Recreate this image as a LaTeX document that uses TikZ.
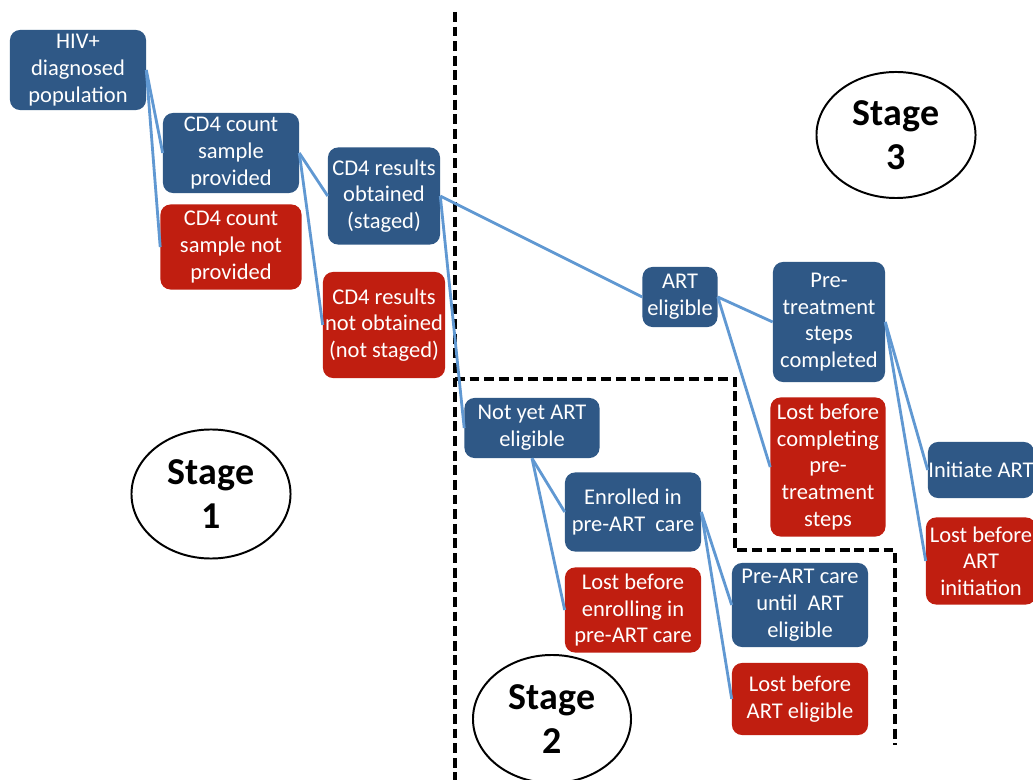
\documentclass[tikz,border=0pt]{standalone}
\usepackage{fontspec}
\setmainfont{Carlito}
\usepackage{tikz}
\usetikzlibrary{shapes.geometric}

\definecolor{boxblue}{RGB}{47,88,134}
\definecolor{boxred}{RGB}{192,30,16}
\definecolor{linkblue}{RGB}{96,152,210}

\begin{document}
\begin{tikzpicture}[x=0.025cm, y=-0.025cm,
    bluebox/.style={rectangle, rounded corners=0.25cm, fill=boxblue, text=white, align=center, inner sep=0pt,
        font=\fontsize{16pt}{19pt}\selectfont},
    redbox/.style={bluebox, fill=boxred},
    stagelabel/.style={ellipse, draw, line width=1.4pt, inner sep=0pt, align=center,
        font=\fontsize{27pt}{31pt}\selectfont\bfseries},
    conn/.style={linkblue, line width=2pt},
    divider/.style={line width=2.6pt, dash pattern=on 7pt off 3.4pt}]
                  \useasboundingbox (0,0) rectangle (1033,780);
                  \fill [white] (0,0) rectangle (1033,780);

                  % Stage borders
                  \draw [divider] (455,12) -- (455,780);
                  \draw [divider] (455,379) -- (735,379) -- (735,550) -- (895,550) -- (895,745);

                  % Nodes for stage 1
                  \node [bluebox, minimum width=3.4cm, minimum height=2cm] (hiv) at (78,70) {HIV+\\diagnosed\\population};
                  \node [bluebox, minimum width=3.4cm, minimum height=2cm] (sample) at (231,153) {CD4 count\\sample\\provided};
                  \node [redbox, minimum width=3.525cm, minimum height=2.125cm] (nosample) at (231,247) {CD4 count\\sample not\\provided};
                  \node [bluebox, minimum width=2.8cm, minimum height=2.425cm] (staged) at (384,196) {CD4 results\\obtained\\(staged)};
                  \node [redbox, minimum width=3.05cm, minimum height=2.65cm] (notstaged) at (384,325) {CD4 results\\not obtained\\(not staged)};

                  % Nodes for stage 3
                  \node [bluebox, minimum width=1.875cm, minimum height=1.5cm] (eligible) at (680,297) {ART\\eligible};
                  \node [bluebox, minimum width=2.8cm, minimum height=3cm] (pretreat) at (829,322) {Pre-\\treatment\\steps\\completed};
                  \node [redbox, minimum width=2.875cm, minimum height=3.475cm] (lostpretreat) at (828,467) {Lost before\\completing\\pre-\\treatment\\steps};
                  \node [bluebox, minimum width=2.65cm, minimum height=1.4cm] (initiate) at (981,470) {Initiate ART};
                  \node [redbox, minimum width=2.75cm, minimum height=2.175cm] (lostinitiate) at (981,561) {Lost before\\ART\\initiation};

                  % Nodes for stage 2
                  \node [bluebox, minimum width=3.375cm, minimum height=1.5cm] (notyet) at (532,428) {Not yet ART\\eligible};
                  \node [bluebox, minimum width=3.4cm, minimum height=1.975cm] (enrolled) at (633,512) {Enrolled in\\pre-ART\ \ care};
                  \node [redbox, minimum width=3.4cm, minimum height=2.125cm] (lostenrol) at (633,610) {Lost before\\enrolling in\\pre-ART care};
                  \node [bluebox, minimum width=3.4cm, minimum height=2.1cm] (precare) at (800,605) {Pre-ART care\\until\ \ ART\\eligible};
                  \node [redbox, minimum width=3.4cm, minimum height=1.8cm] (losteligible) at (800,699) {Lost before\\ART eligible};

                  % Stage labels
                  \node [stagelabel, minimum width=3.975cm, minimum height=3.225cm] (stageone) at (211,494) {Stage\\1};
                  \node [stagelabel, minimum width=3.95cm, minimum height=3.2cm] (stagetwo) at (552,719) {Stage\\2};
                  \node [stagelabel, minimum width=3.975cm, minimum height=3.15cm] (stagethree) at (896,135) {Stage\\3};

                  % Lines between steps
                  \draw [conn] (hiv.east) -- (sample.west);
                  \draw [conn] (hiv.east) -- (nosample.west);
                  \draw [conn] (sample.east) -- (staged.west);
                  \draw [conn] (sample.east) -- (notstaged.west);
                  \draw [conn] (staged.east) -- (eligible.west);
                  \draw [conn] (staged.east) -- (notyet.west);
                  \draw [conn] (eligible.east) -- (pretreat.west);
                  \draw [conn] (eligible.east) -- (lostpretreat.west);
                  \draw [conn] (pretreat.east) -- (initiate.west);
                  \draw [conn] (pretreat.east) -- (lostinitiate.west);
                  \draw [conn] (notyet.south) -- (enrolled.west);
                  \draw [conn] (notyet.south) -- (lostenrol.west);
                  \draw [conn] (enrolled.east) -- (precare.west);
                  \draw [conn] (enrolled.east) -- (losteligible.west);
              \end{tikzpicture}
\end{document}
